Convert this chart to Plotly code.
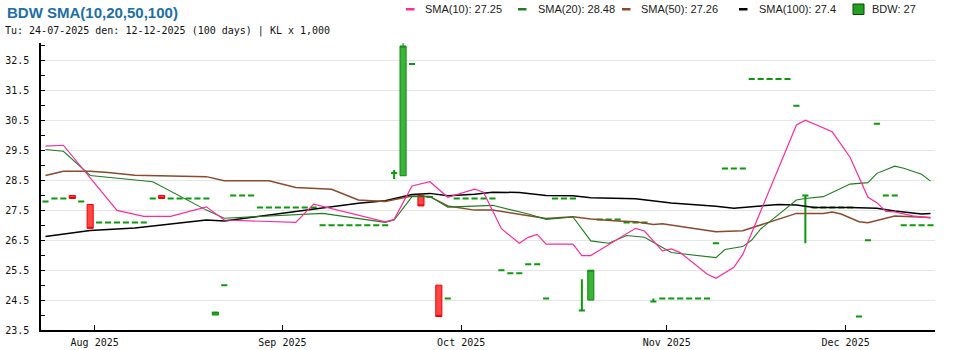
import pandas as pd
import plotly.graph_objects as go

# ---------------- data ----------------
holidays = ["2025-09-01", "2025-09-02"]
dates = [d.strftime("%Y-%m-%d") for d in pd.bdate_range("2025-07-24", "2025-12-12")
         if d.strftime("%Y-%m-%d") not in holidays]

open_ = [27.8, 27.9, 27.9, 28.0, 27.8, 27.7, 27.1, 27.1, 27.1, 27.1,
         27.1, 27.1, 27.9, 28.0, 27.9, 27.9, 27.9, 27.9, 27.9, 24.0,
         25.0, 28.0, 28.0, 28.0, 27.6, 27.6, 27.6, 27.6, 27.6, 27.6,
         27.6, 27.0, 27.0, 27.0, 27.0, 27.0, 27.0, 27.0, 27.0, 28.75,
         28.66, 32.4, 28.0, 27.95, 25.0, 24.55, 27.9, 27.9, 27.9, 27.9,
         27.9, 25.5, 25.4, 25.4, 25.7, 25.7, 24.55, 27.9, 27.9, 27.9,
         24.15, 24.5, 27.2, 27.2, 27.2, 27.1, 27.1, 27.1, 24.45, 24.55,
         24.55, 24.55, 24.55, 24.55, 24.55, 26.4, 28.9, 28.9, 28.9, 31.9,
         31.9, 31.9, 31.9, 31.9, 31.0, 28.0, 27.6, 27.6, 27.6, 27.6,
         27.6, 23.95, 26.5, 30.4, 28.0, 28.0, 27.0, 27.0, 27.0, 27.0]
high_ = [27.8, 27.9, 27.9, 28.0, 27.8, 27.7, 27.1, 27.1, 27.1, 27.1,
         27.1, 27.1, 27.9, 28.0, 27.9, 27.9, 27.9, 27.9, 27.9, 24.1,
         25.0, 28.0, 28.0, 28.0, 27.6, 27.6, 27.6, 27.6, 27.6, 27.6,
         27.6, 27.0, 27.0, 27.0, 27.0, 27.0, 27.0, 27.0, 27.0, 28.85,
         33.1, 32.4, 28.0, 27.95, 25.0, 24.55, 27.9, 27.9, 27.9, 27.9,
         27.9, 25.5, 25.4, 25.4, 25.7, 25.7, 24.55, 27.9, 27.9, 27.9,
         25.2, 25.5, 27.2, 27.2, 27.2, 27.1, 27.1, 27.1, 24.55, 24.55,
         24.55, 24.55, 24.55, 24.55, 24.55, 26.4, 28.9, 28.9, 28.9, 31.9,
         31.9, 31.9, 31.9, 31.9, 31.0, 28.0, 27.6, 27.6, 27.6, 27.6,
         27.6, 23.95, 26.5, 30.4, 28.0, 28.0, 27.0, 27.0, 27.0, 27.0]
low_ = [27.8, 27.9, 27.9, 27.9, 27.8, 26.9, 27.1, 27.1, 27.1, 27.1,
        27.1, 27.1, 27.9, 27.9, 27.9, 27.9, 27.9, 27.9, 27.9, 24.0,
        25.0, 28.0, 28.0, 28.0, 27.6, 27.6, 27.6, 27.6, 27.6, 27.6,
        27.6, 27.0, 27.0, 27.0, 27.0, 27.0, 27.0, 27.0, 27.0, 28.55,
        28.66, 32.4, 27.65, 27.95, 23.95, 24.55, 27.9, 27.9, 27.9, 27.9,
        27.9, 25.5, 25.4, 25.4, 25.7, 25.7, 24.55, 27.9, 27.9, 27.9,
        24.15, 24.5, 27.2, 27.2, 27.2, 27.1, 27.1, 27.1, 24.45, 24.55,
        24.55, 24.55, 24.55, 24.55, 24.55, 26.4, 28.9, 28.9, 28.9, 31.9,
        31.9, 31.9, 31.9, 31.9, 31.0, 26.4, 27.6, 27.6, 27.6, 27.6,
        27.6, 23.95, 26.5, 30.4, 28.0, 28.0, 27.0, 27.0, 27.0, 27.0]
close_ = [27.8, 27.9, 27.9, 27.9, 27.8, 26.9, 27.1, 27.1, 27.1, 27.1,
          27.1, 27.1, 27.9, 27.9, 27.9, 27.9, 27.9, 27.9, 27.9, 24.1,
          25.0, 28.0, 28.0, 28.0, 27.6, 27.6, 27.6, 27.6, 27.6, 27.6,
          27.6, 27.0, 27.0, 27.0, 27.0, 27.0, 27.0, 27.0, 27.0, 28.75,
          33.0, 32.4, 27.65, 27.95, 23.95, 24.55, 27.9, 27.9, 27.9, 27.9,
          27.9, 25.5, 25.4, 25.4, 25.7, 25.7, 24.55, 27.9, 27.9, 27.9,
          24.15, 25.5, 27.2, 27.2, 27.2, 27.1, 27.1, 27.1, 24.45, 24.55,
          24.55, 24.55, 24.55, 24.55, 24.55, 26.4, 28.9, 28.9, 28.9, 31.9,
          31.9, 31.9, 31.9, 31.9, 31.0, 28.0, 27.6, 27.6, 27.6, 27.6,
          27.6, 23.95, 26.5, 30.4, 28.0, 28.0, 27.0, 27.0, 27.0, 27.0]

# moving-average vertices (trading-day index, value)
sma10_idx = [0, 2, 8, 11, 14, 18, 20, 28, 30, 38, 39, 41, 43, 45, 48, 49, 51, 53, 54, 55, 56, 59, 60, 61,
             66, 67, 69, 70, 71, 74, 75, 77, 78, 84, 85, 88, 90, 92, 93, 94, 95, 97, 99]
sma10_val = [29.65, 29.68, 27.50, 27.30, 27.30, 27.62, 27.18, 27.10, 27.71, 27.12, 27.20, 28.32, 28.46,
             27.94, 28.21, 28.11, 26.89, 26.40, 26.60, 26.70, 26.37, 26.37, 25.99, 25.99, 26.90, 26.81,
             26.15, 26.21, 26.09, 25.37, 25.23, 25.60, 26.03, 30.36, 30.52, 30.13, 29.28, 27.94, 27.76,
             27.47, 27.45, 27.32, 27.25]
sma20_idx = [0, 2, 5, 12, 18, 20, 31, 38, 39, 41, 43, 45, 50, 54, 56, 59, 61, 63, 65, 67, 70, 75, 76, 78,
             79, 80, 84, 85, 87, 90, 92, 93, 95, 96, 98, 99]
sma20_val = [29.54, 29.48, 28.67, 28.46, 27.51, 27.24, 27.40, 27.10, 27.18, 27.96, 27.97, 27.61, 27.67,
             27.38, 27.20, 27.28, 26.48, 26.40, 26.66, 26.60, 26.09, 25.92, 26.19, 26.29, 26.51, 26.88,
             27.85, 27.90, 27.96, 28.38, 28.43, 28.74, 28.98, 28.91, 28.71, 28.48]
sma50_idx = [0, 2, 5, 7, 10, 18, 20, 25, 28, 32, 35, 38, 41, 43, 45, 48, 50, 54, 56, 59, 61, 64, 66, 68,
             69, 72, 75, 78, 80, 84, 87, 88, 89, 91, 92, 95, 97, 99]
sma50_val = [28.67, 28.81, 28.81, 28.77, 28.68, 28.63, 28.49, 28.49, 28.27, 28.21, 27.85, 27.80, 27.98,
             27.96, 27.65, 27.51, 27.51, 27.31, 27.23, 27.29, 27.21, 27.15, 27.12, 27.03, 27.05, 26.92,
             26.79, 26.82, 27.01, 27.40, 27.40, 27.45, 27.38, 27.12, 27.09, 27.31, 27.29, 27.26]
sma100_idx = [0, 2, 5, 10, 18, 20, 32, 35, 38, 41, 43, 45, 48, 50, 53, 56, 59, 61, 66, 70, 75, 77, 80,
              82, 84, 86, 90, 93, 95, 98, 99]
sma100_val = [26.63, 26.70, 26.83, 26.91, 27.18, 27.15, 27.62, 27.74, 27.82, 28.03, 28.07, 27.99, 28.04,
              28.11, 28.10, 28.00, 27.99, 27.92, 27.89, 27.75, 27.64, 27.57, 27.65, 27.70, 27.68, 27.60,
              27.60, 27.57, 27.48, 27.38, 27.40]

month_labels = ["Aug 2025", "Sep 2025", "Oct 2025", "Nov 2025", "Dec 2025"]
y_ticks = [23.5, 24.5, 25.5, 26.5, 27.5, 28.5, 29.5, 30.5, 31.5, 32.5]

# ---------------- styles ----------------
W, H = 970, 350
ML, MR, MT, MB = 41, 35, 43, 20
PW, PH = W - ML - MR, H - MT - MB
MONO = "DejaVu Sans Mono"
SANS = "Liberation Sans, Arial, sans-serif"
C10, C20, C50, C100 = "#ff2a9d", "#1e7d1e", "#8b4a2b", "#000000"
DASH_GREEN = "#0a9a0a"
UP_FILL, UP_LINE = "#3cb43c", "#0a8a0a"
DN_FILL, DN_LINE = "#ff4646", "#ee0000"


def px(x):
    return (x - ML) / PW


def py(y):
    return (H - MB - y) / PH


n = len(dates)
xpos = [i + 0.5 for i in range(n)]
flat = [i for i in range(n) if open_[i] == close_[i]]
body = [i for i in range(n) if open_[i] != close_[i]]

fig = go.Figure()


def sel(arr, ids):
    return [arr[i] for i in ids]


fig.add_trace(go.Candlestick(
    x=sel(xpos, flat), open=sel(open_, flat), high=sel(high_, flat),
    low=sel(low_, flat), close=sel(close_, flat),
    increasing=dict(line=dict(color=DASH_GREEN, width=2), fillcolor=DASH_GREEN),
    decreasing=dict(line=dict(color=DASH_GREEN, width=2), fillcolor=DASH_GREEN),
    whiskerwidth=0, showlegend=False, hoverinfo="skip"))
fig.add_trace(go.Candlestick(
    x=sel(xpos, body), open=sel(open_, body), high=sel(high_, body),
    low=sel(low_, body), close=sel(close_, body),
    increasing=dict(line=dict(color=UP_LINE, width=1), fillcolor=UP_FILL),
    decreasing=dict(line=dict(color=DN_LINE, width=1), fillcolor=DN_FILL),
    whiskerwidth=0, showlegend=False, hoverinfo="skip"))

for idx, val, col, w in [(sma100_idx, sma100_val, C100, 1.5),
                         (sma50_idx, sma50_val, C50, 1.5),
                         (sma20_idx, sma20_val, C20, 1.1),
                         (sma10_idx, sma10_val, C10, 1.2)]:
    fig.add_trace(go.Scatter(x=[i + 0.5 for i in idx], y=val, mode="lines",
                             line=dict(color=col, width=w), showlegend=False, hoverinfo="skip"))

# month ticks at first trading day of each month
month_pos = []
seen = set()
for i, d in enumerate(dates):
    m = d[:7]
    if m not in seen:
        seen.add(m)
        if i > 0:
            month_pos.append(i)

fig.update_layout(
    width=W, height=H, autosize=False,
    margin=dict(l=ML, r=MR, t=MT, b=MB, pad=0),
    paper_bgcolor="white", plot_bgcolor="white",
    hovermode=False, showlegend=False,
    boxgap=0.3, boxgroupgap=0.03,
    xaxis=dict(range=[0, n], showgrid=False, zeroline=False, rangeslider=dict(visible=False),
               automargin=False,
               showline=True, linecolor="black", linewidth=1.5,
               ticks="inside", ticklen=5, tickcolor="black", tickwidth=1,
               tickvals=month_pos, ticktext=month_labels, ticklabelstandoff=2,
               tickfont=dict(family=MONO, size=10, color="#111")),
    yaxis=dict(range=[23.5, 33.1], tickvals=y_ticks, ticktext=[f"{v:.1f}" for v in y_ticks],
               automargin=False,
               showgrid=True, gridcolor="#e6e6e6", gridwidth=1, zeroline=False,
               showline=True, linecolor="black", linewidth=1.5,
               ticks="inside", ticklen=4, tickcolor="black", tickwidth=1,
               minor=dict(dtick=0.5, tick0=23.5, ticks="inside", ticklen=4, tickcolor="black",
                          showgrid=False),
               tickfont=dict(family=MONO, size=10, color="#111"), ticklabelstandoff=8),
)

ann = [
    dict(text="<b>BDW SMA(10,20,50,100)</b>", x=px(5), y=py(12), font=dict(family=SANS, size=15, color="#1d6fa5")),
    dict(text="Tu: 24-07-2025 den: 12-12-2025 (100 days) | KL x 1,000", x=px(3), y=py(31),
         font=dict(family=MONO, size=10, color="#111")),
]
legend_items = [
    (f"SMA(10): {sma10_val[-1]:g}", C10, 406, 423),
    (f"SMA(20): {sma20_val[-1]:g}", C20, 518, 536),
    (f"SMA(50): {sma50_val[-1]:g}", C50, 622, 639),
    (f"SMA(100): {sma100_val[-1]:g}", C100, 739, 757),
    (f"BDW: {close_[-1]:g}", None, 853, 870),
]
shapes = []
for label, col, sx, tx in legend_items:
    ann.append(dict(text=label, x=px(tx), y=py(9), font=dict(family=SANS, size=11, color="#222")))
    if col is None:
        shapes.append(dict(type="rect", xref="paper", yref="paper", x0=px(sx), x1=px(sx + 11),
                           y0=py(4), y1=py(14.5), fillcolor="#22a022", line=dict(color="#114411", width=1)))
    else:
        shapes.append(dict(type="rect", xref="paper", yref="paper", x0=px(sx), x1=px(sx + 8.5),
                           y0=py(8), y1=py(10.5), fillcolor=col, line=dict(width=0)))
for a in ann:
    a.update(xref="paper", yref="paper", xanchor="left", yanchor="middle", showarrow=False)
fig.update_layout(annotations=ann, shapes=shapes)

fig.write_html("out.html")
